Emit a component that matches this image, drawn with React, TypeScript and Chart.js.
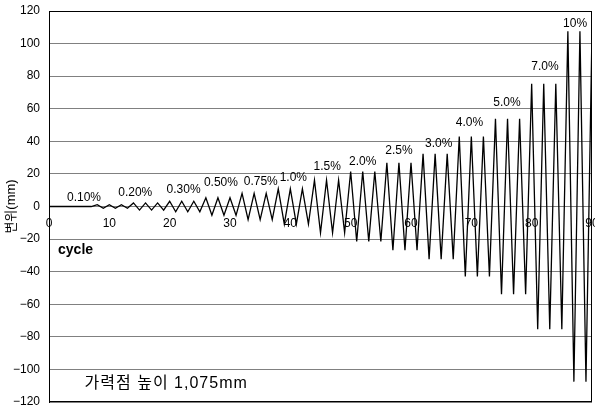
import React, { useEffect, useRef } from 'react';
import { Chart, registerables } from 'chart.js';

Chart.register(...registerables);

// cycle index (x) and displacement in mm (y)
const cycle = [
  0, 1, 2, 3, 4, 5, 6, 7, 8, 9,
  10, 11, 12, 13, 14, 15, 16, 17, 18, 19,
  20, 21, 22, 23, 24, 25, 26, 27, 28, 29,
  30, 31, 32, 33, 34, 35, 36, 37, 38, 39,
  40, 41, 42, 43, 44, 45, 46, 47, 48, 49,
  50, 51, 52, 53, 54, 55, 56, 57, 58, 59,
  60, 61, 62, 63, 64, 65, 66, 67, 68, 69,
  70, 71, 72, 73, 74, 75, 76, 77, 78, 79,
  80, 81, 82, 83, 84, 85, 86, 87, 88, 89,
  90,
];

const displacement = [
  0, 0, 0, 0, 0, 0, 0, 0,
  1.1, -1.1, 1.1, -1.1, 1.1, -1.1,
  2.2, -2.2, 2.2, -2.2, 2.2, -2.2,
  3.2, -3.2, 3.2, -3.2, 3.2, -3.2,
  5.4, -5.4, 5.4, -5.4, 5.4, -5.4,
  8.1, -8.1, 8.1, -8.1, 8.1, -8.1,
  10.8, -10.8, 10.8, -10.8, 10.8, -10.8,
  16.1, -16.1, 16.1, -16.1, 16.1, -16.1,
  21.5, -21.5, 21.5, -21.5, 21.5, -21.5,
  26.9, -26.9, 26.9, -26.9, 26.9, -26.9,
  32.3, -32.3, 32.3, -32.3, 32.3, -32.3,
  43, -43, 43, -43, 43, -43,
  53.8, -53.8, 53.8, -53.8, 53.8, -53.8,
  75.3, -75.3, 75.3, -75.3, 75.3, -75.3,
  107.5, -107.5, 107.5, -107.5, 107.5,
];

// drift-level annotations (text, anchored in data units)
const driftLabels = ['0.10%', '0.20%', '0.30%', '0.50%', '0.75%', '1.0%', '1.5%', '2.0%', '2.5%', '3.0%', '4.0%', '5.0%', '7.0%', '10%'];
const driftLabelCycle = [5.8, 14.3, 22.3, 28.5, 35.1, 40.5, 46.1, 52.0, 58.0, 64.6, 69.7, 75.9, 82.2, 87.2];
const driftLabelDisp = [5.5, 8.3, 10.1, 14.4, 15.2, 17.8, 24.4, 27.3, 34.2, 38.5, 51.6, 63.5, 86.1, 112.2];

const xAxisNote = 'cycle';
const heightNote = '가력점 높이 1,075mm';
const yTitle = '변위(mm)';

const FAMILY = "'Liberation Sans', Arial, 'Noto Sans CJK KR', sans-serif";

const annotationPlugin = {
  id: 'annotations',
  afterDatasetsDraw(chart: any) {
    const { ctx, chartArea } = chart;
    const xs = chart.scales.x;
    const ys = chart.scales.y;
    ctx.save();
    ctx.fillStyle = '#000';
    ctx.textBaseline = 'middle';
    ctx.textAlign = 'center';
    ctx.font = `12px ${FAMILY}`;
    driftLabels.forEach((t, i) => {
      ctx.fillText(t, xs.getPixelForValue(driftLabelCycle[i]), ys.getPixelForValue(driftLabelDisp[i]));
    });
    ctx.textAlign = 'left';
    ctx.font = `bold 14px ${FAMILY}`;
    ctx.fillText(xAxisNote, xs.getPixelForValue(1.5), ys.getPixelForValue(-26.7));
    ctx.font = `16px ${FAMILY}`;
    try { (ctx as any).letterSpacing = '1px'; } catch (e) { /* ignore */ }
    ctx.fillText(heightNote, xs.getPixelForValue(5.9), ys.getPixelForValue(-109.0));
    try { (ctx as any).letterSpacing = '0px'; } catch (e) { /* ignore */ }
    // plot frame
    ctx.strokeStyle = '#000';
    ctx.lineWidth = 1;
    ctx.strokeRect(
      Math.round(chartArea.left) + 0.5,
      Math.round(chartArea.top) + 0.5,
      Math.round(chartArea.right) - Math.round(chartArea.left) - 1,
      Math.round(chartArea.bottom) - Math.round(chartArea.top) - 1
    );
    ctx.restore();
  },
};

export default function App() {
  const canvasRef = useRef<HTMLCanvasElement | null>(null);

  useEffect(() => {
    document.body.style.margin = '0';
    const canvas = canvasRef.current;
    if (!canvas) return;
    const points = cycle.map((c, i) => ({ x: c, y: displacement[i] }));
    const chart = new Chart(canvas, {
      type: 'line',
      data: {
        datasets: [
          {
            data: points,
            borderColor: '#000',
            borderWidth: 1.3,
            pointRadius: 0,
            tension: 0,
            fill: false,
          },
        ],
      },
      options: {
        animation: false,
        responsive: false,
        layout: { padding: { top: 11, right: 3, bottom: 8, left: 0 } },
        plugins: { legend: { display: false }, tooltip: { enabled: false } },
        scales: {
          x: {
            type: 'linear',
            min: 0,
            max: 90,
            position: { y: 0 } as any,
            grid: { display: false, drawTicks: false },
            border: { display: false },
            ticks: {
              stepSize: 10,
              autoSkip: false,
              maxRotation: 0,
              padding: 10,
              color: '#000',
              font: { size: 12, family: FAMILY },
            },
            afterFit: (s: any) => {
              s.paddingLeft = 0;
              s.paddingRight = 0;
            },
          },
          y: {
            type: 'linear',
            min: -120,
            max: 120,
            grid: { color: '#808080', drawTicks: false, lineWidth: 1 },
            border: { display: true, color: '#000' },
            ticks: {
              stepSize: 20,
              padding: 9,
              color: '#000',
              font: { size: 12, family: FAMILY },
              callback: (v: any) => String(v).replace('-', '\u2212'),
            },
            title: {
              display: true,
              text: yTitle,
              color: '#000',
              font: { size: 13, family: FAMILY },
              padding: { top: 4, bottom: 0 },
            },
            afterFit: (s: any) => {
              s.width = 49;
              s.paddingTop = 0;
              s.paddingBottom = 0;
            },
          },
        },
      },
      plugins: [annotationPlugin],
    });
    return () => chart.destroy();
  }, []);

  return (
    <div style={{ position: 'absolute', left: 0, top: 0, width: 595, height: 410, background: '#fff' }}>
      <canvas ref={canvasRef} width={595} height={410} style={{ display: 'block' }} />
    </div>
  );
}
